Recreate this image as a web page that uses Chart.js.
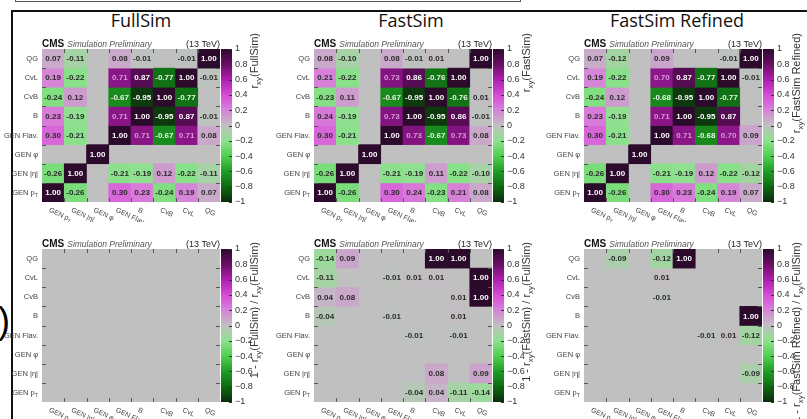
<!DOCTYPE html>
<html>
<head>
<meta charset="utf-8">
<script src="https://cdn.jsdelivr.net/npm/chart.js@4.4.1/dist/chart.umd.min.js"></script>
<style>
  html, body { margin: 0; padding: 0; background: #fff; }
  #fig { position: relative; width: 807px; height: 419px; overflow: hidden; background: #fff; }
  #fig canvas { position: absolute; }
  #caseBox { position: absolute; left: 15px; top: -6px; width: 506px; height: 8px; border: 1.5px solid #555; box-sizing: border-box; }
  #frame { position: absolute; left: 11px; top: 10px; width: 900px; height: 500px; border-top: 2px solid #111; border-left: 2px solid #111; }
  #sideMark { position: absolute; left: -2px; top: 303px; font: 36px/36px "Liberation Sans", Arial, sans-serif; color: #000; }
  .ptitle { position: absolute; top: 11px; font: 18px/18px "Open Sans", sans-serif; color: #111; white-space: nowrap; transform: translateX(-50%); }
</style>
</head>
<body>
<div id="fig">
  <div id="caseBox"></div>
  <div id="frame"></div>
  <div id="sideMark">)</div>
</div>
<script>
// Variables along both axes (x: left to right, y: bottom to top)
const variables = ['GEN p_T', 'GEN |η|', 'GEN φ', 'GEN Flav.', 'B', 'CvB', 'CvL', 'QG'];

// Correlation matrices, rows from top (QG) to bottom (GEN p_T), columns follow `variables`.
// A zero entry is an empty (undrawn) bin.
const fullSim = [
  [ 0.07, -0.11, 0,     0.08, -0.01,  0,    -0.01,  1.00],
  [ 0.19, -0.22, 0,     0.71,  0.87, -0.77,  1.00, -0.01],
  [-0.24,  0.12, 0,    -0.67, -0.95,  1.00, -0.77,  0   ],
  [ 0.23, -0.19, 0,     0.71,  1.00, -0.95,  0.87, -0.01],
  [ 0.30, -0.21, 0,     1.00,  0.71, -0.67,  0.71,  0.08],
  [ 0,     0,    1.00,  0,     0,     0,     0,     0   ],
  [-0.26,  1.00, 0,    -0.21, -0.19,  0.12, -0.22, -0.11],
  [ 1.00, -0.26, 0,     0.30,  0.23, -0.24,  0.19,  0.07]
];
const fastSim = [
  [ 0.08, -0.10, 0,     0.08, -0.01,  0.01,  0,     1.00],
  [ 0.21, -0.22, 0,     0.73,  0.86, -0.76,  1.00,  0   ],
  [-0.23,  0.11, 0,    -0.67, -0.95,  1.00, -0.76,  0.01],
  [ 0.24, -0.19, 0,     0.73,  1.00, -0.95,  0.86, -0.01],
  [ 0.30, -0.21, 0,     1.00,  0.73, -0.67,  0.73,  0.08],
  [ 0,     0,    1.00,  0,     0,     0,     0,     0   ],
  [-0.26,  1.00, 0,    -0.21, -0.19,  0.11, -0.22, -0.10],
  [ 1.00, -0.26, 0,     0.30,  0.24, -0.23,  0.21,  0.08]
];
const fastSimRefined = [
  [ 0.07, -0.12, 0,     0.09,  0,     0,    -0.01,  1.00],
  [ 0.19, -0.22, 0,     0.70,  0.87, -0.77,  1.00, -0.01],
  [-0.24,  0.12, 0,    -0.68, -0.95,  1.00, -0.77,  0   ],
  [ 0.23, -0.19, 0,     0.71,  1.00, -0.95,  0.87,  0   ],
  [ 0.30, -0.21, 0,     1.00,  0.71, -0.68,  0.70,  0.09],
  [ 0,     0,    1.00,  0,     0,     0,     0,     0   ],
  [-0.26,  1.00, 0,    -0.21, -0.19,  0.12, -0.22, -0.12],
  [ 1.00, -0.26, 0,     0.30,  0.23, -0.24,  0.19,  0.07]
];

// Relative differences 1 - r_xy(sample) / r_xy(FullSim)
const ratioFullSim = [
  [0, 0, 0, 0, 0, 0, 0, 0],
  [0, 0, 0, 0, 0, 0, 0, 0],
  [0, 0, 0, 0, 0, 0, 0, 0],
  [0, 0, 0, 0, 0, 0, 0, 0],
  [0, 0, 0, 0, 0, 0, 0, 0],
  [0, 0, 0, 0, 0, 0, 0, 0],
  [0, 0, 0, 0, 0, 0, 0, 0],
  [0, 0, 0, 0, 0, 0, 0, 0]
];
const ratioFastSim = [
  [-0.14,  0.09, 0,  0,     0,     1.00,  1.00,  0   ],
  [-0.11,  0,    0, -0.01,  0.01,  0.01,  0,     1.00],
  [ 0.04,  0.08, 0,  0,     0,     0,     0.01,  1.00],
  [-0.04,  0,    0, -0.01,  0,     0,     0.01,  0   ],
  [ 0,     0,    0,  0,    -0.01,  0,    -0.01,  0   ],
  [ 0,     0,    0,  0,     0,     0,     0,     0   ],
  [ 0,     0,    0,  0,     0,     0.08,  0,     0.09],
  [ 0,     0,    0,  0,    -0.04,  0.04, -0.11, -0.14]
];
const ratioFastSimRefined = [
  [ 0, -0.09, 0, -0.12,  1.00,  0,     0,     0   ],
  [ 0,  0,    0,  0.01,  0,     0,     0,     0   ],
  [ 0,  0,    0, -0.01,  0,     0,     0,     0   ],
  [ 0,  0,    0,  0,     0,     0,     0,     1.00],
  [ 0,  0,    0,  0,     0,    -0.01,  0.01, -0.12],
  [ 0,  0,    0,  0,     0,     0,     0,     0   ],
  [ 0,  0,    0,  0,     0,     0,     0,    -0.09],
  [ 0,  0,    0,  0,     0,     0,     0,     0   ]
];

const panelTitles = ['FullSim', 'FastSim', 'FastSim Refined'];
const zTitlesTop = ['r_{xy}(FullSim)', 'r_{xy}(FastSim)', 'r_{xy}(FastSim Refined)'];
const zTitlesBottom = ['1 - r_{xy}(FullSim) / r_{xy}(FullSim)', '1 - r_{xy}(FastSim) / r_{xy}(FullSim)', '1 - r_{xy}(FastSim Refined) / r_{xy}(FullSim)'];
const colorRange = [-1, 1];
const colorTicks = [-1, -0.8, -0.6, -0.4, -0.2, 0, 0.2, 0.4, 0.6, 0.8, 1];
const experimentLabel = 'CMS';
const statusLabel = 'Simulation Preliminary';
const energyLabel = '(13 TeV)';

// Green - grey - purple diverging palette
const PALETTE = [
  [-1.0, [11, 42, 11]],
  [-0.8, [15, 106, 18]],
  [-0.6, [31, 158, 35]],
  [-0.4, [79, 207, 79]],
  [-0.2, [142, 226, 142]],
  [ 0.0, [192, 192, 192]],
  [ 0.2, [215, 131, 216]],
  [ 0.4, [214, 74, 216]],
  [ 0.6, [173, 31, 174]],
  [ 0.8, [107, 13, 102]],
  [ 1.0, [44, 10, 44]]
];

const FONT = '"Liberation Sans", Arial, sans-serif';
Chart.defaults.font.family = FONT;

const geo = {
  plotLeft: [42, 314, 584],
  plotTop: [49, 249],
  plotW: 178,
  plotH: 153,
  labelSpace: 42,
  pad: 20,
  titleCenter: [141, 411, 677],
  zTitleEnd: [33, 242],
  cbGap: 1,
  cbW: 11,
  cbAxisW: 50
};

function isShown(v) { return Math.abs(v) >= 0.005; }

function colorFor(v) {
  const x = Math.max(-1, Math.min(1, v));
  for (let i = 0; i < PALETTE.length - 1; i++) {
    const [a, ca] = PALETTE[i], [b, cb] = PALETTE[i + 1];
    if (x >= a && x <= b) {
      const t = (x - a) / (b - a);
      const c = ca.map((q, k) => Math.round(q + (cb[k] - q) * t));
      return `rgb(${c[0]},${c[1]},${c[2]})`;
    }
  }
  return '#c0c0c0';
}

function textColorFor(v) {
  if (v >= 0.8 || v <= -0.8) return '#ffffff';
  if (v <= -0.6) return '#e6f6e6';
  if (v >= 0.6) return '#d99ad9';
  return '#2a2a2a';
}

// Split "a_{bc}d" / "p_T" into normal and subscript runs
function segments(str) {
  const out = [];
  let last = 0;
  str.replace(/_\{([^}]*)\}|_(.)/g, (m, a, b, idx) => {
    if (idx > last) out.push({ t: str.slice(last, idx), sub: false });
    out.push({ t: a !== undefined ? a : b, sub: true });
    last = idx + m.length;
    return m;
  });
  if (last < str.length) out.push({ t: str.slice(last), sub: false });
  return out;
}

function drawRich(ctx, str, x, y, o) {
  const segs = segments(str);
  const size = o.size, sub = size * 0.72;
  const fontOf = s => `${o.style || ''} ${o.weight || ''} ${s}px ${FONT}`;
  let total = 0;
  segs.forEach(s => { ctx.font = fontOf(s.sub ? sub : size); s.w = ctx.measureText(s.t).width; total += s.w; });
  let cx = o.align === 'right' ? x - total : (o.align === 'center' ? x - total / 2 : x);
  ctx.fillStyle = o.color || '#222';
  ctx.textAlign = 'left';
  ctx.textBaseline = 'alphabetic';
  segs.forEach(s => {
    ctx.font = fontOf(s.sub ? sub : size);
    ctx.fillText(s.t, cx, y + (s.sub ? size * 0.28 : 0));
    cx += s.w;
  });
}

const matrixDecor = {
  id: 'matrixDecor',
  beforeDatasetsDraw(chart) {
    const { ctx, chartArea: a } = chart;
    ctx.save();
    ctx.fillStyle = '#c0c0c0';
    ctx.fillRect(a.left, a.top, a.right - a.left, a.bottom - a.top);
    ctx.restore();
  },
  afterDatasetsDraw(chart) {
    const { ctx, chartArea: a } = chart;
    const xs = chart.scales.x, ys = chart.scales.y;
    ctx.save();
    // bin contents
    ctx.font = `bold 8px ${FONT}`;
    ctx.textAlign = 'center';
    ctx.textBaseline = 'middle';
    chart.data.datasets.forEach((ds, di) => {
      chart.getDatasetMeta(di).data.forEach((el, j) => {
        const v = ds.values[j];
        if (!isShown(v)) return;
        ctx.fillStyle = textColorFor(v);
        ctx.fillText(v.toFixed(2), el.x, (el.y + el.base) / 2 + 0.5);
      });
    });
    // inner tick marks at bin edges
    ctx.strokeStyle = '#555';
    ctx.lineWidth = 1;
    ctx.beginPath();
    for (let j = 1; j < variables.length; j++) {
      const bx = Math.round((xs.getPixelForValue(j - 1) + xs.getPixelForValue(j)) / 2) + 0.5;
      ctx.moveTo(bx, a.top); ctx.lineTo(bx, a.top + 4);
      ctx.moveTo(bx, a.bottom); ctx.lineTo(bx, a.bottom - 4);
    }
    for (let k = 0; k < variables.length - 1; k++) {
      const by = Math.round(ys.getPixelForValue(k + 0.5)) + 0.5;
      ctx.moveTo(a.left, by); ctx.lineTo(a.left + 4, by);
      ctx.moveTo(a.right, by); ctx.lineTo(a.right - 4, by);
    }
    ctx.stroke();
    // axis labels
    variables.forEach((name, k) => {
      drawRich(ctx, name, a.left - 4, ys.getPixelForValue(k) + 2.5, { size: 7.5, align: 'right', color: '#444' });
    });
    variables.forEach((name, j) => {
      ctx.save();
      ctx.translate(xs.getPixelForValue(j) - 2, a.bottom + 4);
      ctx.rotate(25 * Math.PI / 180);
      drawRich(ctx, name, 0, 6, { size: 7, align: 'left', color: '#444' });
      ctx.restore();
    });
    // header
    ctx.textBaseline = 'alphabetic';
    ctx.textAlign = 'left';
    ctx.fillStyle = '#111';
    ctx.font = `bold 10px ${FONT}`;
    ctx.fillText(experimentLabel, a.left, a.top - 2);
    const w = ctx.measureText(experimentLabel).width;
    ctx.fillStyle = '#555';
    ctx.font = `italic 8.5px ${FONT}`;
    ctx.fillText(statusLabel, a.left + w + 3, a.top - 2);
    ctx.fillStyle = '#222';
    ctx.font = `9px ${FONT}`;
    ctx.textAlign = 'right';
    ctx.fillText(energyLabel, a.right, a.top - 2);
    ctx.restore();
  }
};

const colorbarDecor = {
  id: 'colorbarDecor',
  afterDraw(chart, args, opts) {
    const { ctx, chartArea: a } = chart;
    const ys = chart.scales.y;
    ctx.save();
    ctx.strokeStyle = '#333';
    ctx.lineWidth = 1;
    ctx.beginPath();
    colorTicks.forEach(v => {
      const py = Math.round(ys.getPixelForValue(v)) + 0.5;
      ctx.moveTo(a.right - 3, py); ctx.lineTo(a.right, py);
    });
    ctx.stroke();
    ctx.translate(a.right + 22, opts.titleEnd);
    ctx.rotate(-Math.PI / 2);
    drawRich(ctx, opts.title, 0, 4, { size: 11, align: 'right', color: '#333' });
    ctx.restore();
  }
};

function addCanvas(left, top, w, h) {
  const c = document.createElement('canvas');
  c.width = w; c.height = h;
  c.style.left = left + 'px'; c.style.top = top + 'px';
  c.style.width = w + 'px'; c.style.height = h + 'px';
  document.getElementById('fig').appendChild(c);
  return c;
}

function makeMatrix(matrix, plotLeft, plotTop) {
  const n = variables.length;
  const w = geo.labelSpace + geo.plotW + 1, h = geo.pad * 2 + geo.plotH;
  const canvas = addCanvas(plotLeft - geo.labelSpace, plotTop - geo.pad, w, h);
  const datasets = matrix.map((row, i) => {
    const yi = n - 1 - i;
    return {
      data: row.map(v => isShown(v) ? [yi - 0.5, yi + 0.5] : null),
      values: row,
      backgroundColor: row.map(colorFor),
      borderWidth: 0,
      grouped: false,
      barPercentage: 1,
      categoryPercentage: 1
    };
  });
  return new Chart(canvas, {
    type: 'bar',
    data: { labels: variables, datasets },
    options: {
      responsive: false,
      animation: false,
      events: [],
      layout: { padding: { left: geo.labelSpace, right: 1, top: geo.pad, bottom: geo.pad } },
      plugins: { legend: { display: false }, tooltip: { enabled: false } },
      scales: {
        x: { type: 'category', display: false, offset: true },
        y: { type: 'linear', display: false, min: -0.5, max: n - 0.5 }
      }
    },
    plugins: [matrixDecor]
  });
}

function makeColorbar(plotLeft, plotTop, title, titleEnd) {
  const left = plotLeft + geo.plotW + geo.cbGap;
  const top = plotTop - geo.pad;
  const canvas = addCanvas(left, top, geo.cbW + geo.cbAxisW, geo.pad * 2 + geo.plotH);
  return new Chart(canvas, {
    type: 'bar',
    data: {
      labels: ['z'],
      datasets: [{
        data: [colorRange],
        borderWidth: 0,
        barPercentage: 1,
        categoryPercentage: 1,
        backgroundColor: (ctx) => {
          const chart = ctx.chart;
          if (!chart.chartArea) return '#c0c0c0';
          const ys = chart.scales.y;
          const y0 = ys.getPixelForValue(colorRange[0]), y1 = ys.getPixelForValue(colorRange[1]);
          const g = chart.ctx.createLinearGradient(0, y0, 0, y1);
          PALETTE.forEach(([v]) => g.addColorStop((v - colorRange[0]) / (colorRange[1] - colorRange[0]), colorFor(v)));
          return g;
        }
      }]
    },
    options: {
      responsive: false,
      animation: false,
      events: [],
      layout: { padding: { left: 0, right: 0, top: geo.pad, bottom: geo.pad } },
      plugins: {
        legend: { display: false },
        tooltip: { enabled: false },
        colorbarDecor: { title, titleEnd: titleEnd - top }
      },
      scales: {
        x: { display: false },
        y: {
          position: 'right',
          min: colorRange[0],
          max: colorRange[1],
          afterBuildTicks: s => { s.ticks = colorTicks.map(v => ({ value: v })); },
          afterFit: s => { s.width = geo.cbAxisW; },
          grid: { display: false, drawTicks: false },
          border: { display: false },
          ticks: {
            autoSkip: false,
            padding: 3,
            color: '#333',
            font: { size: 9 },
            callback: v => {
              const r = Math.round(v * 10) / 10;
              return r < 0 ? '\u2212' + String(-r) : String(r);
            }
          }
        }
      }
    },
    plugins: [colorbarDecor]
  });
}

const topMatrices = [fullSim, fastSim, fastSimRefined];
const bottomMatrices = [ratioFullSim, ratioFastSim, ratioFastSimRefined];

panelTitles.forEach((t, c) => {
  const d = document.createElement('div');
  d.className = 'ptitle';
  d.style.left = geo.titleCenter[c] + 'px';
  d.textContent = t;
  document.getElementById('fig').appendChild(d);
});

[topMatrices, bottomMatrices].forEach((row, r) => {
  row.forEach((m, c) => {
    makeMatrix(m, geo.plotLeft[c], geo.plotTop[r]);
    makeColorbar(geo.plotLeft[c], geo.plotTop[r], (r === 0 ? zTitlesTop : zTitlesBottom)[c], geo.zTitleEnd[r]);
  });
});
</script>
</body>
</html>
